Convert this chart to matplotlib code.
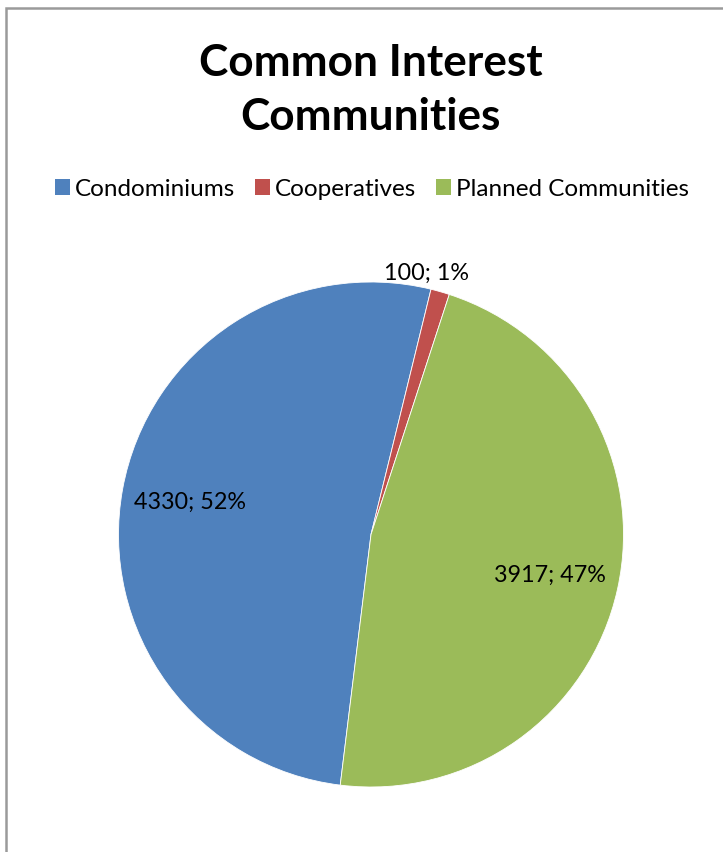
import numpy as np
import matplotlib
matplotlib.use("Agg")
import matplotlib.pyplot as plt
from matplotlib.patches import Rectangle, Patch

# chart data
categories = ["Condominiums", "Cooperatives", "Planned Communities"]
values = [4330, 100, 3917]
colors = ["#4F81BD", "#C0504D", "#9BBB59"]
title = "Common Interest\nCommunities"

plt.rcParams["font.family"] = ["Lato", "DejaVu Sans"]

W, H = 723, 853
fig = plt.figure(figsize=(W / 100, H / 100), dpi=100)

# chart area border (Excel-style), cut off at right and bottom
fig.patches.append(Rectangle((6.5 / W, -0.1), 1.2, 1.1 - 9 / H,
                             transform=fig.transFigure, fill=False,
                             edgecolor="#9A9A9A", linewidth=1.8))

# pie axes: centre (371, 535.5), radius 252.5 px
cx, cy, r = 371, 535.5, 252.5
ax = fig.add_axes([(cx - r) / W, (H - cy - r) / H, 2 * r / W, 2 * r / H])
wedges, _ = ax.pie(values, colors=colors, startangle=-97, counterclock=False,
                   radius=1.0, wedgeprops=dict(linewidth=0.6, edgecolor="white"))
ax.set_xlim(-1, 1)
ax.set_ylim(-1, 1)
ax.set_aspect("equal")
ax.axis("off")

# data labels "value; pct"
total = sum(values)
label_r = [0.73, 1.08, 0.725]
label_shift = [0, -0.075, 0]
for w, v, lr, dx in zip(wedges, values, label_r, label_shift):
    mid = np.deg2rad((w.theta1 + w.theta2) / 2)
    x, y = lr * np.cos(mid) + dx, lr * np.sin(mid)
    ax.text(x, y, f"{v}; {v / total * 100:.0f}%", ha="center", va="center",
            fontsize=16.8, color="black", clip_on=False)

fig.text(370.5 / W, 1 - 90 / H, title, ha="center", va="center",
         fontsize=31.8, fontweight="bold", linespacing=1.42)

handles = [Patch(facecolor=c, edgecolor="none") for c in colors]
fig.legend(handles, categories, loc="center", ncol=3,
           bbox_to_anchor=(372 / W, 1 - 190 / H), frameon=False,
           fontsize=17.5, handlelength=0.62, handleheight=0.62,
           handletextpad=0.22, columnspacing=0.8)

fig.savefig("out.png", dpi=100, facecolor="white")
